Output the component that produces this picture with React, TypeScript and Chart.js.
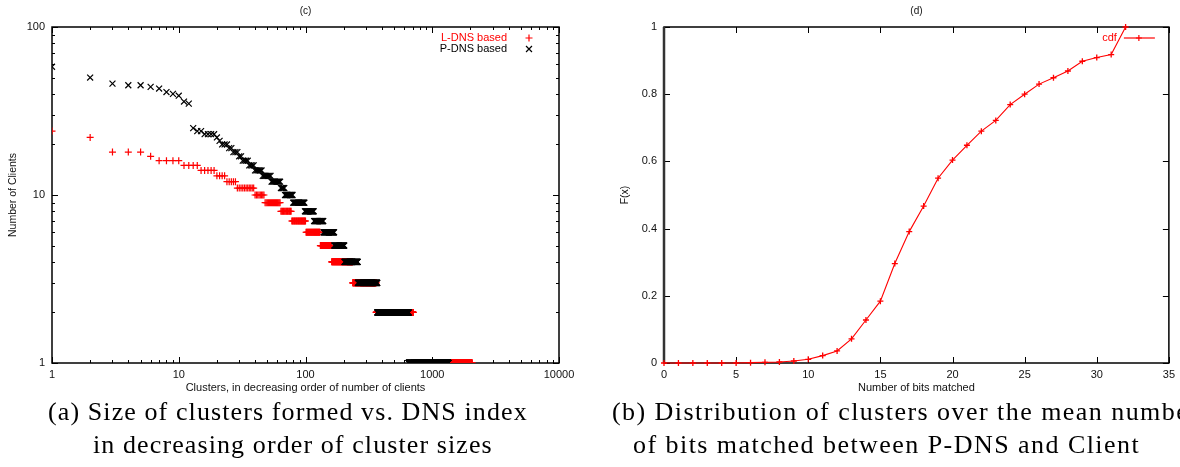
import React, { useEffect, useRef } from 'react';
import { Chart, registerables } from 'chart.js';

Chart.register(...registerables);

// ---------- (a) cluster sizes in decreasing order (run-length: size, how many clusters) ----------
const lDnsSizes = [24, 22, 18, 17, 16, 15, 14, 13, 12, 11, 10, 9, 8, 7, 6, 5, 4, 3, 2, 1];
const lDnsCounts = [1, 1, 3, 1, 4, 4, 5, 4, 5, 11, 8, 16, 14, 23, 30, 30, 75, 125, 345, 1345];
const pDnsSizes = [58, 50, 46, 45, 44, 43, 41, 40, 39, 36, 35, 25, 24, 23, 22, 21, 20, 19, 18, 17, 16, 15, 14, 13, 12, 11, 10, 9, 8, 7, 6, 5, 4, 3, 2, 1];
const pDnsCounts = [1, 1, 1, 2, 1, 1, 1, 1, 1, 1, 1, 1, 2, 4, 1, 1, 3, 2, 3, 2, 4, 4, 6, 8, 10, 5, 11, 19, 18, 22, 30, 34, 56, 110, 282, 690];

const xTicksA = [1, 10, 100, 1000, 10000];
const xLabelsA = ['1', '10', '100', '1000', '10000'];
const yTicksA = [1, 10, 100];
const yLabelsA = ['1', '10', '100'];

// ---------- (b) CDF of bits matched ----------
const bits = [0, 1, 2, 3, 4, 5, 6, 7, 8, 9, 10, 11, 12, 13, 14, 15, 16, 17, 18, 19, 20, 21, 22, 23, 24, 25, 26, 27, 28, 29, 30, 31, 32];
const cdf = [0, 0, 0, 0, 0, 0, 0.001, 0.002, 0.003, 0.006, 0.011, 0.022, 0.036, 0.072, 0.128, 0.184, 0.296, 0.391, 0.467, 0.55, 0.604, 0.648, 0.69, 0.722, 0.769, 0.8, 0.83, 0.849, 0.869, 0.898, 0.909, 0.918, 1.0];

const xTicksB = [0, 5, 10, 15, 20, 25, 30, 35];
const xLabelsB = ['0', '5', '10', '15', '20', '25', '30', '35'];
const yTicksB = [0, 0.2, 0.4, 0.6, 0.8, 1];
const yLabelsB = ['0', '0.2', '0.4', '0.6', '0.8', '1'];

const SANS = '"Liberation Sans", Arial, Helvetica, sans-serif';

function expand(sizes: number[], counts: number[]) {
  const pts: { x: number; y: number }[] = [];
  let rank = 1;
  sizes.forEach((s, i) => {
    for (let k = 0; k < counts[i]; k++) pts.push({ x: rank++, y: s });
  });
  return pts;
}

function drawMarker(ctx: CanvasRenderingContext2D, kind: string, x: number, y: number, r: number) {
  ctx.beginPath();
  if (kind === 'plus') {
    ctx.moveTo(x - r, y); ctx.lineTo(x + r, y);
    ctx.moveTo(x, y - r); ctx.lineTo(x, y + r);
  } else {
    const d = r * 0.7071;
    ctx.moveTo(x - d, y - d); ctx.lineTo(x + d, y + d);
    ctx.moveTo(x - d, y + d); ctx.lineTo(x + d, y - d);
  }
  ctx.stroke();
}

type FrameCfg = {
  logX?: boolean; logY?: boolean;
  leftWidth?: number; leftColor?: string;
  title: string; xTitle: string; yTitle: string;
  legend: { text: string; color: string; marker: string; line?: boolean }[];
};

function framePlugin(cfg: FrameCfg) {
  return {
    id: 'frame',
    beforeDatasetsDraw(chart: any) {
      const { ctx, chartArea } = chart;
      const { left, right, top, bottom } = chartArea;
      const x = chart.scales.x;
      const y = chart.scales.y;
      ctx.save();
      ctx.strokeStyle = '#000';
      ctx.lineWidth = 1;
      const seg = (x1: number, y1: number, x2: number, y2: number) => {
        ctx.beginPath(); ctx.moveTo(x1, y1); ctx.lineTo(x2, y2); ctx.stroke();
      };
      const major = 6, minor = 3;
      x.ticks.forEach((t: any) => {
        const px = Math.round(x.getPixelForValue(t.value)) + 0.5;
        seg(px, bottom, px, bottom - major);
        seg(px, top, px, top + major);
      });
      y.ticks.forEach((t: any) => {
        const py = Math.round(y.getPixelForValue(t.value)) + 0.5;
        seg(left, py, left + major, py);
        seg(right, py, right - major, py);
      });
      if (cfg.logX) {
        for (let d = x.min; d < x.max; d *= 10) {
          for (let m = 2; m <= 9; m++) {
            const px = Math.round(x.getPixelForValue(d * m)) + 0.5;
            seg(px, bottom, px, bottom - minor);
            seg(px, top, px, top + minor);
          }
        }
      }
      if (cfg.logY) {
        for (let d = y.min; d < y.max; d *= 10) {
          for (let m = 2; m <= 9; m++) {
            const py = Math.round(y.getPixelForValue(d * m)) + 0.5;
            seg(left, py, left + minor, py);
            seg(right, py, right - minor, py);
          }
        }
      }
      ctx.lineWidth = 1.5;
      ctx.strokeRect(left, top, right - left, bottom - top);
      if (cfg.leftWidth) {
        ctx.strokeStyle = cfg.leftColor || '#333';
        ctx.lineWidth = cfg.leftWidth;
        seg(left, top, left, bottom);
      }
      ctx.restore();
    },
    afterDatasetsDraw(chart: any) {
      const { ctx, chartArea } = chart;
      const { left, right, top, bottom } = chartArea;
      ctx.save();
      ctx.fillStyle = '#111';
      ctx.textAlign = 'center';
      ctx.textBaseline = 'middle';
      ctx.font = `10px ${SANS}`;
      ctx.fillText(cfg.title, (left + right) / 2, 11);
      ctx.font = `11px ${SANS}`;
      ctx.fillText(cfg.xTitle, (left + right) / 2, bottom + 25);
      ctx.save();
      ctx.translate(left - 39, (top + bottom) / 2);
      ctx.rotate(-Math.PI / 2);
      ctx.font = `10.5px ${SANS}`;
      ctx.fillText(cfg.yTitle, 0, 0);
      ctx.restore();
      // legend
      ctx.font = `11px ${SANS}`;
      ctx.textAlign = 'right';
      cfg.legend.forEach((e, i) => {
        const ly = 38 + i * 11;
        ctx.fillStyle = e.color;
        ctx.fillText(e.text, right - 52, ly);
        ctx.strokeStyle = e.color;
        ctx.lineWidth = 1.2;
        if (e.line) {
          ctx.beginPath(); ctx.moveTo(right - 45, ly); ctx.lineTo(right - 14, ly); ctx.stroke();
          drawMarker(ctx, e.marker, right - 30, ly, 3);
        } else {
          drawMarker(ctx, e.marker, right - 30, ly, e.marker === 'plus' ? 3.5 : 4.2);
        }
      });
      ctx.restore();
    },
  };
}

function axisCommon(ticks: number[], labels: string[], padding: number) {
  return {
    grid: { display: false, drawTicks: false, tickLength: 0 },
    border: { display: false },
    afterBuildTicks: (s: any) => { s.ticks = ticks.map((v) => ({ value: v })); },
    ticks: {
      autoSkip: false, maxRotation: 0, minRotation: 0, padding,
      color: '#111', font: { family: SANS, size: 11 },
      callback: (_v: any, i: number) => labels[i],
    },
  };
}

export default function App() {
  const refA = useRef<HTMLCanvasElement>(null);
  const refB = useRef<HTMLCanvasElement>(null);

  useEffect(() => {
    const chartA = new Chart(refA.current!, {
      type: 'scatter',
      data: {
        datasets: [
          {
            label: 'L-DNS based', data: expand(lDnsSizes, lDnsCounts), order: 1,
            pointStyle: 'cross', pointRadius: 3.5, borderColor: '#ff0000', backgroundColor: '#ff0000', borderWidth: 1.2,
          },
          {
            label: 'P-DNS based', data: expand(pDnsSizes, pDnsCounts), order: 0,
            pointStyle: 'crossRot', pointRadius: 4.2, borderColor: '#000000', backgroundColor: '#000000', borderWidth: 1.2,
          },
        ],
      } as any,
      options: {
        animation: false, responsive: false, events: [],
        layout: { padding: { top: 27, right: 31, left: 0, bottom: 0 } },
        plugins: { legend: { display: false }, tooltip: { enabled: false }, title: { display: false } },
        scales: {
          x: { type: 'logarithmic', min: 1, max: 10000, ...axisCommon(xTicksA, xLabelsA, 5), afterFit: (s: any) => { s.height = 37; } },
          y: { type: 'logarithmic', min: 1, max: 100, ...axisCommon(yTicksA, yLabelsA, 7), afterFit: (s: any) => { s.width = 52; } },
        },
      } as any,
      plugins: [framePlugin({
        logX: true, logY: true,
        title: '(c)', xTitle: 'Clusters, in decreasing order of number of clients', yTitle: 'Number of Clients',
        legend: [
          { text: 'L-DNS based', color: '#ff0000', marker: 'plus' },
          { text: 'P-DNS based', color: '#000000', marker: 'x' },
        ],
      })],
    });

    const chartB = new Chart(refB.current!, {
      type: 'line',
      data: {
        labels: bits,
        datasets: [
          {
            label: 'cdf', data: bits.map((b, i) => ({ x: b, y: cdf[i] })),
            borderColor: '#ff0000', backgroundColor: '#ff0000', borderWidth: 1.1,
            pointStyle: 'cross', pointRadius: 3, pointBorderWidth: 1.3, tension: 0, clip: false,
          },
        ],
      } as any,
      options: {
        animation: false, responsive: false, events: [],
        layout: { padding: { top: 27, right: 9, left: 0, bottom: 0 } },
        plugins: { legend: { display: false }, tooltip: { enabled: false }, title: { display: false } },
        scales: {
          x: { type: 'linear', min: 0, max: 35, ...axisCommon(xTicksB, xLabelsB, 5), afterFit: (s: any) => { s.height = 37; } },
          y: { type: 'linear', min: 0, max: 1, ...axisCommon(yTicksB, yLabelsB, 7), afterFit: (s: any) => { s.width = 74; } },
        },
      } as any,
      plugins: [framePlugin({
        leftWidth: 2.5, leftColor: '#333',
        title: '(d)', xTitle: 'Number of bits matched', yTitle: 'F(x)',
        legend: [{ text: 'cdf', color: '#ff0000', marker: 'plus', line: true }],
      })],
    });

    return () => { chartA.destroy(); chartB.destroy(); };
  }, []);

  const cap: React.CSSProperties = {
    position: 'absolute', whiteSpace: 'nowrap', fontFamily: '"Liberation Serif", "Times New Roman", serif',
    fontSize: '26px', letterSpacing: '1.1px', lineHeight: '33px', color: '#000',
  };
  const capB: React.CSSProperties = { ...cap, letterSpacing: '1.45px' };

  return (
    <div style={{ position: 'fixed', left: 0, top: 0, width: 1180, height: 467, overflow: 'hidden', background: '#fff' }}>
      <canvas ref={refA} width={590} height={400} style={{ position: 'absolute', left: 0, top: 0, width: 590, height: 400 }} />
      <canvas ref={refB} width={590} height={400} style={{ position: 'absolute', left: 590, top: 0, width: 590, height: 400 }} />
      <div style={{ ...cap, left: 48, top: 395 }}>(a) Size of clusters formed vs. DNS index</div>
      <div style={{ ...cap, left: 93, top: 428 }}>in decreasing order of cluster sizes</div>
      <div style={{ ...capB, left: 612, top: 395 }}>(b) Distribution of clusters over the mean number</div>
      <div style={{ ...capB, left: 633, top: 428 }}>of bits matched between P-DNS and Client</div>
    </div>
  );
}
